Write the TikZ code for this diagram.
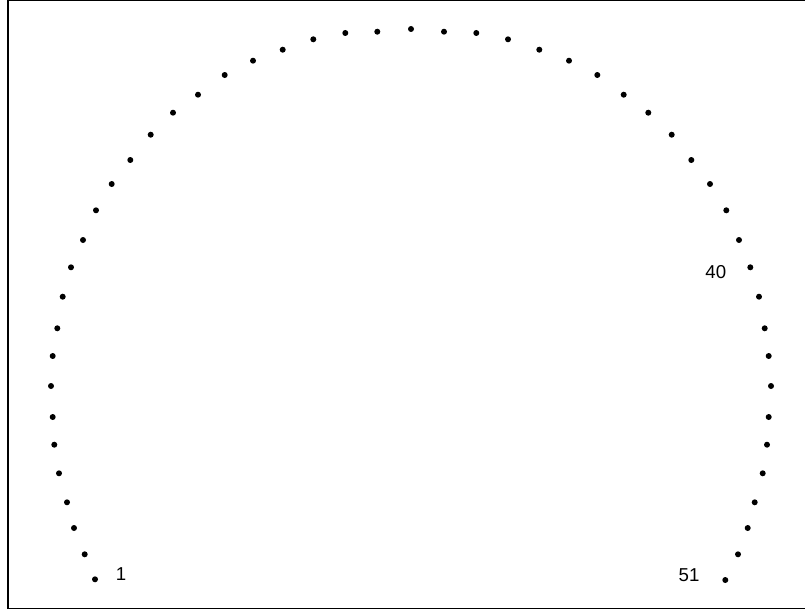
\documentclass[tikz,border=0pt]{standalone}
\usepackage{fontspec}
\setmainfont{Liberation Sans}
\begin{document}
\begin{tikzpicture}[x=0.75pt,y=-0.75pt,
  dotmark/.style={circle,fill=black,inner sep=0pt,minimum size=4.5pt},
  lbl/.style={inner sep=0pt,font=\fontsize{14}{16}\selectfont}]
\useasboundingbox (0,0) rectangle (805,610);
\draw[line width=0.9pt] (806,0.6) -- (8,0.6) -- (8,608.8) -- (806,608.8);
\foreach \i/\x/\y in {
1/95/579.3, 2/84.7/554.3, 3/74/528, 4/67/502.3, 5/59/473.3,
6/54.3/444.7, 7/52.7/417, 8/51/386, 9/52.7/356, 10/57.3/328.3,
11/62.7/296.7, 12/71/267.3, 13/83/240, 14/96/210.3, 15/111.7/184,
16/130.3/160, 17/150.7/134.7, 18/173/112.7, 19/198/94.7, 20/224.7/75,
21/253/60.7, 22/282.7/49.7, 23/313.3/39.3, 24/345.3/33, 25/377.3/31.7,
26/411/29, 27/444/31.7, 28/476.3/33, 29/508/39.3, 30/539.3/49.7,
31/569/60.7, 32/597.3/75, 33/623.7/94.7, 34/648.3/112.7, 35/671.7/134.7,
36/691.3/160, 37/710/184, 38/726.3/210.3, 39/739/240, 40/750.3/267.3,
41/759/296.7, 42/764.7/328.3, 43/768.7/356, 44/771/386, 45/768.7/417,
46/767/444.7, 47/762.7/473.3, 48/754.7/502.3, 49/747.7/528, 50/738/554.3,
51/725.3/580}
  \node[dotmark] (p\i) at (\x,\y) {};
\node[lbl] (l1) at (121,574) {1};
\node[lbl] (l40) at (715.8,272) {40};
\node[lbl] (l51) at (689,575) {51};
\end{tikzpicture}
\end{document}
